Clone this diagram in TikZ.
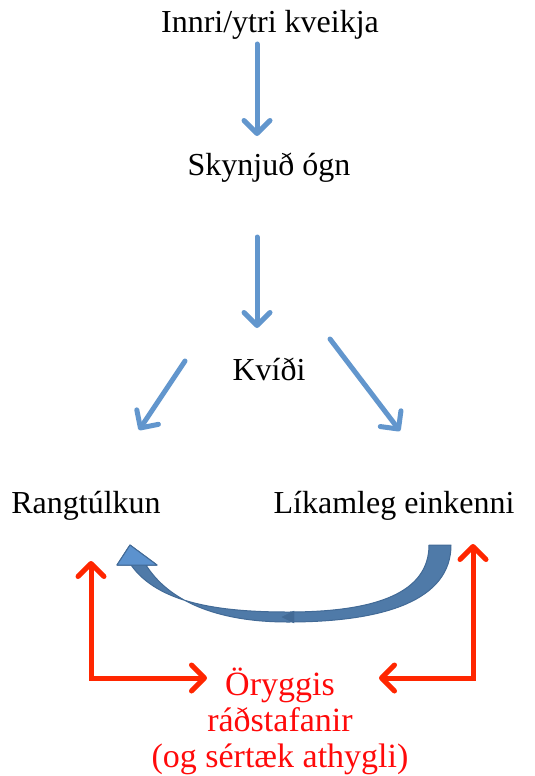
\documentclass[tikz,border=0pt]{standalone}
\usepackage{fontspec}
\setmainfont{Liberation Serif}
\usetikzlibrary{arrows.meta}

\definecolor{arrowblue}{RGB}{98,150,205}
\definecolor{loopblue}{RGB}{79,122,168}
\definecolor{loopedge}{RGB}{66,106,150}
\definecolor{loophead}{RGB}{92,146,206}
\definecolor{safered}{RGB}{255,38,0}
\definecolor{textred}{RGB}{255,10,10}

\begin{document}
\begin{tikzpicture}[
    x=1pt, y=-1pt,
    every node/.style={font=\fontsize{32}{38}\selectfont, inner sep=0pt, anchor=base},
    stage/.style={text=black},
    safety/.style={text=textred, align=center, anchor=north, font=\fontsize{34}{36}\selectfont},
    flow/.style={draw=arrowblue, line width=5pt, line cap=round,
        -{Straight Barb[length=13pt, width=26pt, line cap=round, line join=round]}},
    guard/.style={draw=safered, line width=5pt, line join=miter,
        {Straight Barb[length=13pt, width=26pt, line cap=round, line join=round]}-{Straight Barb[length=13pt, width=26pt, line cap=round, line join=round]}}
]
\useasboundingbox (0,0) rectangle (535,776);

% labels
\node[stage] (trigger) at (270,33) {Innri/ytri kveikja};
\node[stage] (threat) at (269,175) {Skynjuð ógn};
\node[stage] (anxiety) at (269,380) {Kvíði};
\node[stage] (misread) at (86,513) {Rangtúlkun};
\node[stage] (body) at (394,513) {Líkamleg einkenni};
\node[safety] (safe) at (280,668) {Öryggis\\ráðstafanir\\(og sértæk athygli)};

% arrow ends
\coordinate (t1) at (257,44);
\coordinate (t2) at (257,136);
\coordinate (s1) at (257,237);
\coordinate (s2) at (257,328);
\coordinate (k1) at (185,361);
\coordinate (k2) at (139,430);
\coordinate (k3) at (330,339);
\coordinate (k4) at (400,431);
\coordinate (lup) at (91,561);
\coordinate (lin) at (207,678);
\coordinate (rup) at (473,544);
\coordinate (rin) at (379,678);

% blue chain
\draw[flow] (t1) -- (t2);
\draw[flow] (s1) -- (s2);
\draw[flow] (k1) -- (k2);
\draw[flow] (k3) -- (k4);

% curved loop
\filldraw[fill=loopblue, draw=loopedge, line width=1pt, line join=round]
    (429,545) -- (451,545)
    .. controls (451,600) and (385,622) .. (288,622)
    .. controls (215,622) and (168,600) .. (146,565)
    -- (157,565) -- (130,545) -- (117,565) -- (131,565)
    .. controls (158,603) and (218,612) .. (288,612)
    .. controls (378,612) and (429,592) .. (429,545) -- cycle;
\filldraw[fill=loophead, draw=loopedge, line width=1pt, line join=round]
    (146,565) -- (157,565) -- (130,545) -- (117,565) -- (131,565) -- cycle;
\filldraw[fill=loopedge, draw=loopedge] (282,617) -- (294,611) -- (294,623) -- cycle;

% red loops
\draw[guard] (lup) |- (lin);
\draw[guard] (rup) |- (rin);

\end{tikzpicture}
\end{document}
